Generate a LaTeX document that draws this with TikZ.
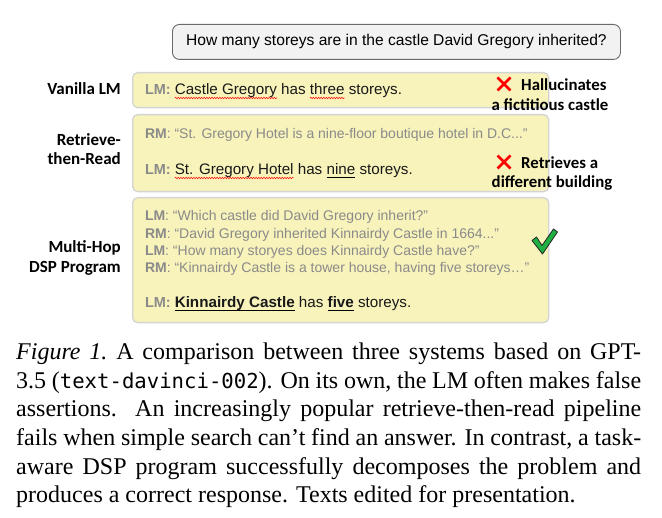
\documentclass[tikz,border=0pt]{standalone}
\usepackage{fontspec}
\setmainfont{Liberation Serif}
\newfontfamily\arialf{Liberation Sans}
\newfontfamily\calib{Carlito}
\newfontfamily\monof{DejaVu Sans Mono}[Scale=0.86]
\usetikzlibrary{decorations.pathmorphing}
\definecolor{boxfill}{HTML}{F7F3BB}
\definecolor{boxline}{HTML}{D4D4D4}
\definecolor{qfill}{HTML}{F2F2F2}
\definecolor{qline}{HTML}{6A6A6A}
\definecolor{greytxt}{HTML}{8A8A8A}
\definecolor{chk}{HTML}{1EB040}
\definecolor{xred}{HTML}{FF0000}
\begin{document}
\begin{tikzpicture}[x=1pt,y=-1pt,
  panel/.style={draw=boxline, line width=1.3pt, fill=boxfill, rounded corners=5pt, anchor=north west, minimum width=416pt, inner sep=0pt},
  qbox/.style={draw=qline, line width=0.9pt, fill=qfill, rounded corners=7pt, anchor=north west, minimum width=448pt, minimum height=35pt, inner sep=0pt, font=\arialf\fontsize{15.6}{18}\selectfont},
  seg/.style={inner sep=0pt, outer sep=0pt, anchor=base west, text=black!90, font=\arialf\fontsize{15.2}{18}\selectfont},
  gseg/.style={seg, text=greytxt, font=\arialf\fontsize{14}{17}\selectfont},
  tag/.style={seg, text=greytxt, font=\arialf\bfseries\fontsize{14.5}{17}\selectfont},
  lbl/.style={inner sep=0pt, anchor=east, align=right, font=\calib\bfseries\fontsize{17}{19.5}\selectfont},
  note/.style={inner sep=0pt, font=\calib\bfseries\fontsize{16.8}{19.5}\selectfont},
  wavy/.style={draw=xred, line width=0.5pt, decorate, decoration={snake, amplitude=0.7pt, segment length=2.6pt}},
  undl/.style={draw=black, line width=1pt},
  xmark/.style={draw=xred, line width=2.6pt},
  capline/.style={inner sep=0pt, anchor=base west, font=\fontsize{24}{28.8}\selectfont}
]
\useasboundingbox[fill=white] (0,0) rectangle (662,518);

% question
\node[qbox] (q) at (172,24) {How many storeys are in the castle David Gregory inherited?};

% panels
\node[panel, minimum height=35pt] (p1) at (132,72) {};
\node[panel, minimum height=77pt] (p2) at (132,114) {};
\node[panel, minimum height=125pt] (p3) at (132,197) {};

% labels
\node[lbl] (l1) at (121,89) {Vanilla LM};
\node[lbl] (l2) at (121,149) {Retrieve-\\then-Read};
\node[lbl] (l3) at (121,258) {Multi-Hop\\DSP Program};

% panel 1
\node[tag] (a1) at (145,95) {LM:\ \null};
\node[seg] (a2) at (a1.base east) {Castle Gregory};
\node[seg] (a3) at (a2.base east) {\null\ has\ \null};
\node[seg] (a4) at (a3.base east) {three};
\node[seg] (a5) at (a4.base east) {\null\ storeys.};
\draw[wavy] ([yshift=-3pt]a2.base west) -- ([yshift=-3pt]a2.base east);
\draw[wavy] ([yshift=-3pt]a4.base west) -- ([yshift=-3pt]a4.base east);

% panel 2
\node[gseg] (b1) at (145,139) {\textbf{RM}: “St. Gregory Hotel is a nine-floor boutique hotel in D.C...”};
\node[tag] (b2) at (145,175) {LM:\ \null};
\node[seg] (b3) at (b2.base east) {St. Gregory Hotel};
\node[seg] (b4) at (b3.base east) {\null\ has\ \null};
\node[seg] (b5) at (b4.base east) {nine};
\node[seg] (b6) at (b5.base east) {\null\ storeys.};
\draw[wavy] ([yshift=-3pt]b3.base west) -- ([yshift=-3pt]b3.base east);
\draw[undl] ([yshift=-2.5pt]b5.base west) -- ([yshift=-2.5pt]b5.base east);

% panel 3
\node[gseg] (c1) at (145,221) {\textbf{LM}: “Which castle did David Gregory inherit?”};
\node[gseg] (c2) at (145,239) {\textbf{RM}: “David Gregory inherited Kinnairdy Castle in 1664...”};
\node[gseg] (c3) at (145,256) {\textbf{LM}: “How many storyes does Kinnairdy Castle have?”};
\node[gseg] (c4) at (145,273) {\textbf{RM}: “Kinnairdy Castle is a tower house, having five storeys…”};
\node[tag] (c5) at (145,308) {LM:\ \null};
\node[seg] (c6) at (c5.base east) {\bfseries Kinnairdy Castle};
\node[seg] (c7) at (c6.base east) {\null\ has\ \null};
\node[seg] (c8) at (c7.base east) {\bfseries five};
\node[seg] (c9) at (c8.base east) {\null\ storeys.};
\draw[undl] ([yshift=-2.5pt]c6.base west) -- ([yshift=-2.5pt]c6.base east);
\draw[undl] ([yshift=-2.5pt]c8.base west) -- ([yshift=-2.5pt]c8.base east);

% annotations
\draw[xmark] (497.5,77.5) -- (510.5,90.5);
\draw[xmark] (510.5,77.5) -- (497.5,90.5);
\node[note, anchor=west] (n1) at (521,85) {Hallucinates};
\node[note] (n1b) at (550,105) {a fictitious castle};
\draw[xmark] (497.5,155.5) -- (510.5,168.5);
\draw[xmark] (510.5,155.5) -- (497.5,168.5);
\node[note, anchor=west] (n2) at (521,163) {Retrieves a};
\node[note] (n2b) at (552,183) {different building};

% check mark
\filldraw[fill=chk, draw=black!85, line width=0.8pt, line join=round]
  (532,240.5) -- (536.5,237) -- (542,245.5) -- (553.5,229) -- (557.5,232) -- (542.5,254) -- cycle;

% caption
\node[capline] (k1) at (16,359.5) {\makebox[625pt][s]{\textit{Figure 1.}\ A comparison between three systems based on GPT-}};
\node[capline] (k2) at (16,388.2) {\makebox[625pt][s]{3.5 ({\monof text-davinci-002}). On its own, the LM often makes false}};
\node[capline] (k3) at (16,416.9) {\makebox[625pt][s]{assertions.\ \ An increasingly popular retrieve-then-read pipeline}};
\node[capline] (k4) at (16,445.6) {\makebox[625pt][s]{fails when simple search can’t find an answer. In contrast, a task-}};
\node[capline] (k5) at (16,474.3) {\makebox[625pt][s]{aware DSP program successfully decomposes the problem and}};
\node[capline] (k6) at (16,503) {produces a correct response. Texts edited for presentation.};
\end{tikzpicture}
\end{document}
